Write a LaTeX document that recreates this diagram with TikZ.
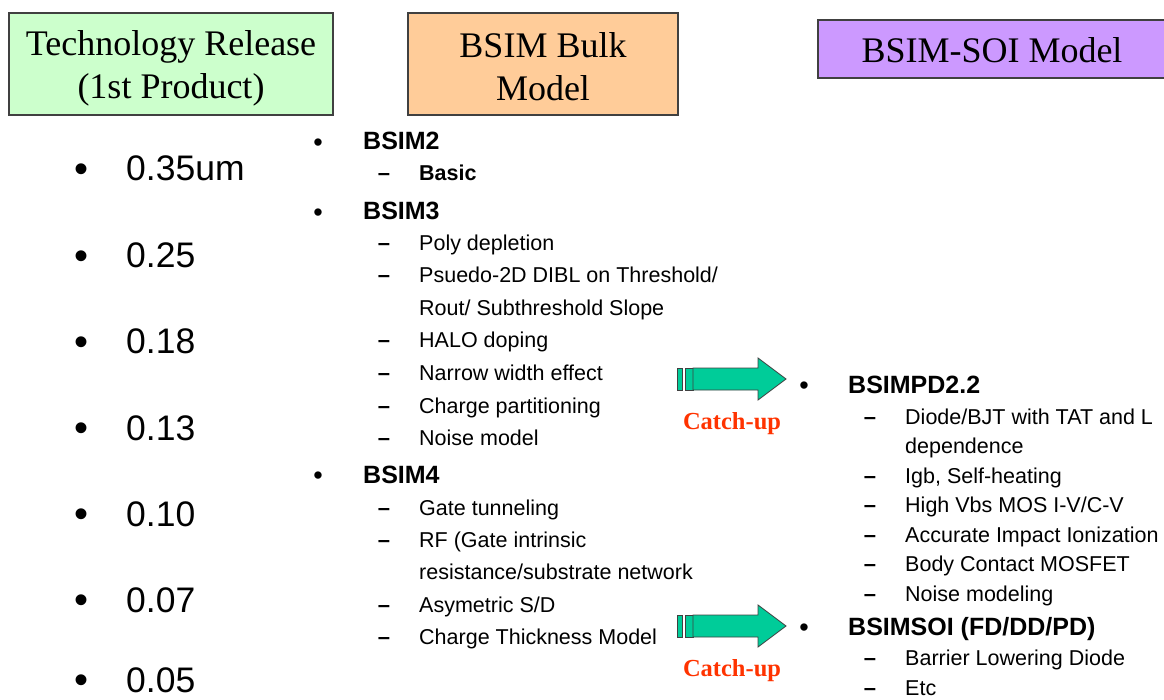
\documentclass[tikz,border=0pt]{standalone}
\usepackage{fontspec}
\setmainfont{Liberation Serif}
\newfontfamily\arialfont{Liberation Sans}
\usetikzlibrary{positioning}
\definecolor{techgreen}{RGB}{204,255,204}
\definecolor{bulkorange}{RGB}{255,204,153}
\definecolor{soipurple}{RGB}{204,153,255}
\definecolor{boxgray}{RGB}{64,64,64}
\definecolor{arrowgreen}{RGB}{0,204,153}
\definecolor{catchred}{RGB}{255,51,0}

\begin{document}
\begin{tikzpicture}[x=1pt,y=-1pt,
  headbox/.style={draw=boxgray,line width=1.2pt,inner sep=0pt},
  headtext/.style={inner sep=0pt,align=center,font=\fontsize{36}{43}\selectfont},
  techitem/.style={anchor=base west,inner sep=0pt,font=\arialfont\fontsize{35.5}{40}\selectfont},
  bigdot/.style={inner sep=0pt,font=\arialfont\fontsize{40}{40}\selectfont},
  topitem/.style={anchor=base west,inner sep=0pt,font=\arialfont\bfseries\fontsize{25}{30}\selectfont},
  subitem/.style={anchor=base west,inner sep=0pt,font=\arialfont\fontsize{21.5}{26}\selectfont},
  listdot/.style={inner sep=0pt,font=\arialfont\fontsize{27}{27}\selectfont},
  subdash/.style={anchor=base,inner sep=0pt,font=\arialfont\bfseries\fontsize{22}{26}\selectfont},
  catchup/.style={inner sep=0pt,text=catchred,font=\bfseries\fontsize{24.5}{28}\selectfont},
  blockarrow/.style={fill=arrowgreen,draw=boxgray,line width=0.8pt}]
\useasboundingbox (0,0) rectangle (1164,700);

% column headers
\node[headbox,fill=techgreen,minimum width=324,minimum height=102] (tech) at (171,64) {};
\node[headtext] (techlabel) at ([yshift=-4pt]tech.center) {Technology Release\\(1st Product)};
\node[headbox,fill=bulkorange,minimum width=270,minimum height=102] (bulk) at (543,64) {};
\node[headtext] (bulklabel) at ([yshift=-3pt]bulk.center) {BSIM Bulk\\Model};
\begin{scope}
\clip (0,0) rectangle (1164,700);
\node[headbox,fill=soipurple,minimum width=348,minimum height=58] (soi) at (992,49) {};
\node[headtext] (soilabel) at ([yshift=-1pt]soi.center) {BSIM-SOI Model};
\end{scope}

% technology nodes
\foreach \y/\t [count=\i] in {181/0.35um,268/0.25,354/0.18,440/0.13,526/0.10,612/0.07,692/0.05}{
  \node[techitem] (tnode\i) at (126,\y) {\t};
  \node[bigdot] (tdot\i) at (82,\y-8) {•};
}

% bulk models
\foreach \y/\t [count=\i] in {150/BSIM2,220/BSIM3,483/BSIM4}{
  \node[listdot] (bdot\i) at (318,\y-5) {•};
  \node[topitem] (bulk\i) at (363,\y) {\t};
}
\node[subdash] (bdash0) at (384,181) {–};
\node[subitem,font=\arialfont\bfseries\fontsize{21.5}{26}\selectfont] (basic) at (419,181) {Basic};
\foreach \y/\t [count=\i] in {251/Poly depletion,283/{Psuedo-2D DIBL on Threshold/},
    348/HALO doping,380/Narrow width effect,413/Charge partitioning,445/Noise model,
    515/Gate tunneling,547/{RF (Gate intrinsic},612/{Asymetric S/D},644/Charge Thickness Model}{
  \node[subdash] (bdash\i) at (384,\y) {–};
  \node[subitem] (bsub\i) at (419,\y) {\t};
}
\node[subitem] (rout) at (419,316) {Rout/ Subthreshold Slope};
\node[subitem] (resist) at (419,579) {resistance/substrate network};

% SOI models
\foreach \y/\t [count=\i] in {393/BSIMPD2.2,635/{BSIMSOI (FD/DD/PD)}}{
  \node[listdot] (sdot\i) at (804,\y-5) {•};
  \node[topitem] (soi\i) at (848,\y) {\t};
}
\foreach \y/\t [count=\i] in {424/{Diode/BJT with TAT and L},483/{Igb, Self-heating},
    512/{High Vbs MOS I-V/C-V},542/Accurate Impact Ionization,571/Body Contact MOSFET,
    601/Noise modeling,665/Barrier Lowering Diode,695/Etc}{
  \node[subdash] (sdash\i) at (870,\y) {–};
  \node[subitem] (ssub\i) at (905,\y) {\t};
}
\node[subitem] (depend) at (905,453) {dependence};

% catch-up arrows
\foreach \ay [count=\i] in {379,626}{
  \draw[blockarrow] (677,\ay-11) rectangle (682,\ay+11);
  \draw[blockarrow] (685,\ay-11) rectangle (693,\ay+11);
  \draw[blockarrow] (693,\ay-11) -- (758,\ay-11) -- (758,\ay-21) -- (786,\ay)
    -- (758,\ay+21) -- (758,\ay+11) -- (693,\ay+11) -- cycle;
  \node[catchup] (catch\i) at (732,\ay+45) {Catch-up};
}
\end{tikzpicture}
\end{document}
